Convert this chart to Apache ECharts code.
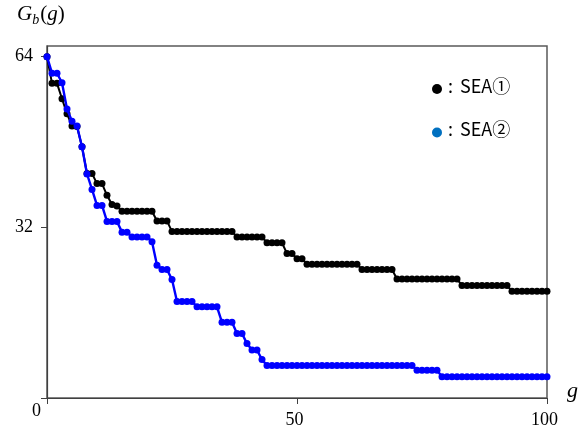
<!DOCTYPE html>
<html><head><meta charset="utf-8">
<script src="https://cdn.jsdelivr.net/npm/echarts@6/dist/echarts.min.js"></script>
<style>html,body{margin:0;padding:0;background:#fff}#c{width:587px;height:435px}</style>
</head><body><div id="c"></div>
<script>
// Best-so-far values G_b(g), g = 0..100
const sea1 = [64, 59, 59, 56.1, 53.3, 51.0, 50.9, 47.1, 42.1, 42.1, 40.2, 40.2, 38.0, 36.3, 36.0,
  35.0, 35.0, 35.0, 35.0, 35.0, 35.0, 35.0,
  33.2, 33.2, 33.2,
  31.2, 31.2, 31.2, 31.2, 31.2, 31.2, 31.2, 31.2, 31.2, 31.2, 31.2, 31.2, 31.2,
  30.2, 30.2, 30.2, 30.2, 30.2, 30.2,
  29.1, 29.1, 29.1, 29.1,
  27.1, 27.1,
  26.1, 26.1,
  25.1, 25.1, 25.1, 25.1, 25.1, 25.1, 25.1, 25.1, 25.1, 25.1, 25.1,
  24.1, 24.1, 24.1, 24.1, 24.1, 24.1, 24.1,
  22.3, 22.3, 22.3, 22.3, 22.3, 22.3, 22.3, 22.3, 22.3, 22.3, 22.3, 22.3, 22.3,
  21.1, 21.1, 21.1, 21.1, 21.1, 21.1, 21.1, 21.1, 21.1, 21.1,
  20.0, 20.0, 20.0, 20.0, 20.0, 20.0, 20.0, 20.0];
const sea2 = [64.0, 60.9, 60.9, 59.1, 54.2, 51.9, 51.0, 47.1, 42.0, 39.1, 36.1, 36.1, 33.1, 33.1, 33.1,
  31.1, 31.1,
  30.2, 30.2, 30.2, 30.2,
  29.3,
  24.9,
  24.1, 24.1,
  22.2,
  18.1, 18.1, 18.1, 18.1,
  17.1, 17.1, 17.1, 17.1, 17.1,
  14.2, 14.2, 14.2,
  12.1, 12.1,
  10.2,
  9.0, 9.0,
  7.2,
  6.1, 6.1, 6.1, 6.1, 6.1, 6.1, 6.1, 6.1, 6.1, 6.1, 6.1, 6.1, 6.1, 6.1, 6.1,
  6.1, 6.1, 6.1, 6.1, 6.1, 6.1, 6.1, 6.1, 6.1, 6.1, 6.1, 6.1, 6.1, 6.1, 6.1,
  5.2, 5.2, 5.2, 5.2, 5.2,
  4.0, 4.0, 4.0, 4.0, 4.0, 4.0, 4.0, 4.0, 4.0, 4.0, 4.0,
  4.0, 4.0, 4.0, 4.0, 4.0, 4.0, 4.0, 4.0, 4.0, 4.0, 4.0];
const seriesNames = ['SEA①', 'SEA②'];
const xTicks = [0, 50, 100];
const yTicks = [0, 32, 64];

const serif = '"Liberation Serif","DejaVu Serif",serif';
const sans = '"Noto Sans CJK JP","Noto Sans",sans-serif';
const chart = echarts.init(document.getElementById('c'), null, {renderer: 'canvas'});
const legendText = name => ({
  text: '{c|:}{t|' + name + '}',
  rich: {
    c: {fontFamily: sans, fontSize: 18, fill: '#000'},
    t: {fontFamily: sans, fontSize: 18, fill: '#000', padding: [0, 0, 0, 7]}
  }
});
chart.setOption({
  animation: false,
  backgroundColor: '#fff',
  grid: {left: 47, right: 40, top: 46, bottom: 37, show: true, borderColor: '#595959', borderWidth: 1.5, backgroundColor: 'transparent'},
  xAxis: {
    type: 'value', min: xTicks[0], max: xTicks[xTicks.length - 1], interval: 50,
    axisLine: {show: true, onZero: false, lineStyle: {color: '#404040', width: 1.2}},
    axisTick: {show: true, length: 6, lineStyle: {color: '#404040'}},
    splitLine: {show: false},
    axisLabel: {margin: 13, fontFamily: serif, fontSize: 18, color: '#000',
      formatter: v => (v === 0 ? '' : '{a|' + v + '}'),
      rich: {a: {fontFamily: serif, fontSize: 18, color: '#000', padding: [0, 5, 0, 0]}}}
  },
  yAxis: {
    type: 'value', min: 0, max: 66, interval: 32,
    axisLine: {show: true, onZero: false, lineStyle: {color: '#404040', width: 1.2}},
    axisTick: {show: true, length: 6, lineStyle: {color: '#404040'}},
    splitLine: {show: false},
    axisLabel: {margin: 14, fontFamily: serif, fontSize: 18, color: '#000',
      formatter: v => (v === 0 ? '' : String(v))}
  },
  series: [
    {name: seriesNames[0], type: 'line', data: sea1.map((v, i) => [i, v]),
      symbol: 'circle', symbolSize: 7, showAllSymbol: true,
      lineStyle: {color: '#000', width: 2}, itemStyle: {color: '#000'}, z: 2},
    {name: seriesNames[1], type: 'line', data: sea2.map((v, i) => [i, v]),
      symbol: 'circle', symbolSize: 7, showAllSymbol: true,
      lineStyle: {color: '#0000ff', width: 2.4}, itemStyle: {color: '#0000ff'}, z: 3}
  ],
  graphic: [
    {type: 'text', left: 17, top: 4, style: {
      text: '{i|G}{s|b}{n|(}{i|g}{n|)}',
      rich: {
        i: {fontFamily: serif, fontStyle: 'italic', fontSize: 21, fill: '#000'},
        s: {fontFamily: serif, fontStyle: 'italic', fontSize: 14, fill: '#000', padding: [12, 1, 0, 0]},
        n: {fontFamily: serif, fontSize: 21, fill: '#000'}
      }}},
    {type: 'text', left: 567, top: 380, style: {text: 'g', fontFamily: serif, fontStyle: 'italic', fontSize: 22, fill: '#000'}},
    {type: 'text', left: 32, top: 402, style: {text: String(xTicks[0]), fontFamily: serif, fontSize: 18, fill: '#000'}},
    {type: 'circle', shape: {cx: 437, cy: 89, r: 5}, style: {fill: '#000'}},
    {type: 'text', left: 448, top: 77, style: legendText(seriesNames[0])},
    {type: 'circle', shape: {cx: 437, cy: 132.5, r: 5}, style: {fill: '#0070c0'}},
    {type: 'text', left: 448, top: 120.5, style: legendText(seriesNames[1])}
  ]
});
</script></body></html>
